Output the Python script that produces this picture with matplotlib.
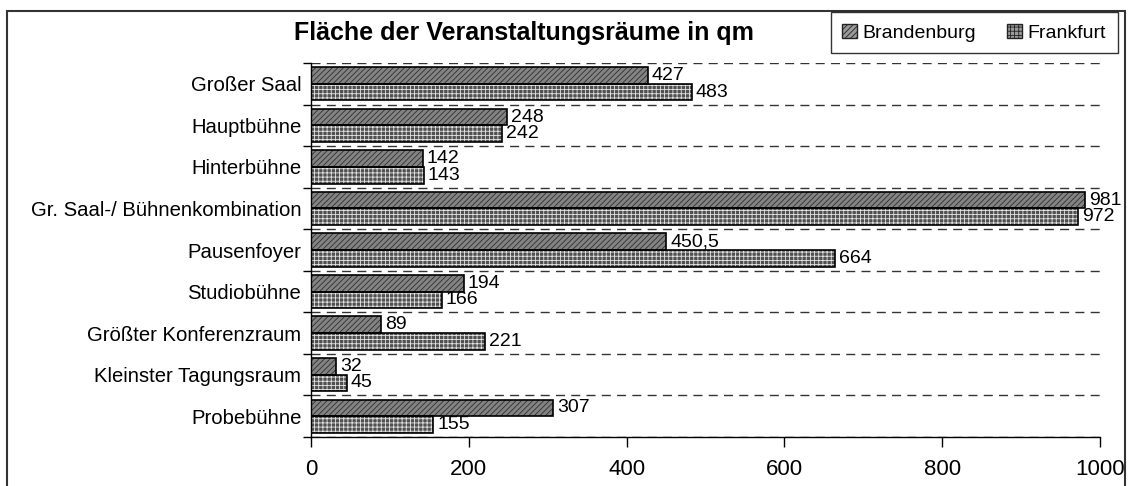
# flaechen_veranstaltungsraeume.py
# -*- coding: utf-8 -*-
import numpy as np
import matplotlib
matplotlib.use("Agg")
import matplotlib.pyplot as plt
from matplotlib.patches import Rectangle, Patch

plt.rcParams["font.family"] = ["Liberation Sans", "DejaVu Sans"]
plt.rcParams["hatch.linewidth"] = 0.6

# ====== Daten ======
TITEL = "Fläche der Veranstaltungsräume in qm"
RAEUME = [
    "Großer Saal",
    "Hauptbühne",
    "Hinterbühne",
    "Gr. Saal-/ Bühnenkombination",
    "Pausenfoyer",
    "Studiobühne",
    "Größter Konferenzraum",
    "Kleinster Tagungsraum",
    "Probebühne",
]
BRANDENBURG = [427, 248, 142, 981, 450.5, 194, 89, 32, 307]
FRANKFURT = [483, 242, 143, 972, 664, 166, 221, 45, 155]
X_TICKS = [0, 200, 400, 600, 800, 1000]

# Stil je Standort: Füllung, Schraffur, Schraffurfarbe, Versatz in der Gruppe
STIL = {
    "Brandenburg": dict(face="#838383", hatch="//////", hcol="#2e2e2e", off=-0.2),
    "Frankfurt": dict(face="#505050", hatch="++++", hcol="#e4e4e4", off=0.2),
}
BALKEN_H = 0.4

W, H = 1128, 486


def fmt(v):
    # deutsches Dezimalkomma
    return f"{v:g}".replace(".", ",")


def main():
    fig = plt.figure(figsize=(W / 100, H / 100), dpi=100)
    ax = fig.add_axes([311 / W, 49 / H, 789 / W, 374 / H])

    y = np.arange(len(RAEUME))
    for name, werte in [("Brandenburg", BRANDENBURG), ("Frankfurt", FRANKFURT)]:
        s = STIL[name]
        pos = y + s["off"]
        # Schraffur zuerst, dann schwarzer Rahmen darüber
        ax.barh(pos, werte, height=BALKEN_H, color=s["face"], hatch=s["hatch"],
                edgecolor=s["hcol"], linewidth=0, zorder=2)
        ax.barh(pos, werte, height=BALKEN_H, fill=False, edgecolor="black",
                linewidth=1.2, zorder=3)
        for yi, v in zip(pos, werte):
            ax.annotate(fmt(v), (v, yi), xytext=(2.8, 0), textcoords="offset points",
                        ha="left", va="center", fontsize=14, zorder=4,
                        annotation_clip=False)

    ax.set_xlim(0, 1000)
    ax.set_ylim(len(RAEUME) - 0.5, -0.5)
    ax.set_xticks(X_TICKS)
    ax.set_xticklabels([str(t) for t in X_TICKS])

    # Gruppengrenzen als Hauptticks (gestrichelte Linien), Namen als Nebenticks
    ax.set_yticks(np.arange(-0.5, len(RAEUME), 1.0))
    ax.set_yticklabels([])
    ax.set_yticks(y, minor=True)
    ax.set_yticklabels(RAEUME, minor=True)
    ax.yaxis.grid(True, which="major", linestyle=(0, (6.5, 4.5)), color="#333333", linewidth=1.0)
    ax.set_axisbelow(True)

    ax.tick_params(axis="y", which="major", length=6, width=1, direction="out")
    ax.tick_params(axis="y", which="minor", length=0, pad=7, labelsize=14.6)
    ax.tick_params(axis="x", length=7, width=1, direction="out", pad=9, labelsize=16)

    for side in ("top", "right"):
        ax.spines[side].set_visible(False)
    for side in ("left", "bottom"):
        ax.spines[side].set_linewidth(1.0)
        ax.spines[side].set_color("black")

    fig.text(524 / W, 1 - 33 / H, TITEL, ha="center", va="center",
             fontsize=18, fontweight="bold")

    handles = [
        Patch(facecolor="#9a9a9a", hatch="//////", edgecolor="#222222",
              label="Brandenburg"),
        Patch(facecolor="#9a9a9a", hatch="++++", edgecolor="#222222",
              label="Frankfurt"),
    ]
    leg = fig.legend(handles=handles, loc="upper right", bbox_to_anchor=(1118 / W, 1 - 12 / H),
                     ncol=2, frameon=True, fancybox=False, edgecolor="black", fontsize=14,
                     handlelength=0.75, handleheight=0.75, handletextpad=0.3,
                     columnspacing=1.6, borderpad=0.6, borderaxespad=0)
    leg.get_frame().set_linewidth(1.0)

    # Rahmen um die ganze Grafik
    fig.add_artist(Rectangle((7 / W, -0.05), (1125 - 7) / W, 1 - 11 / H + 0.05,
                             transform=fig.transFigure, fill=False,
                             edgecolor="#333333", linewidth=1.5))

    fig.savefig("out.png", dpi=100)
    plt.close(fig)


if __name__ == "__main__":
    main()
